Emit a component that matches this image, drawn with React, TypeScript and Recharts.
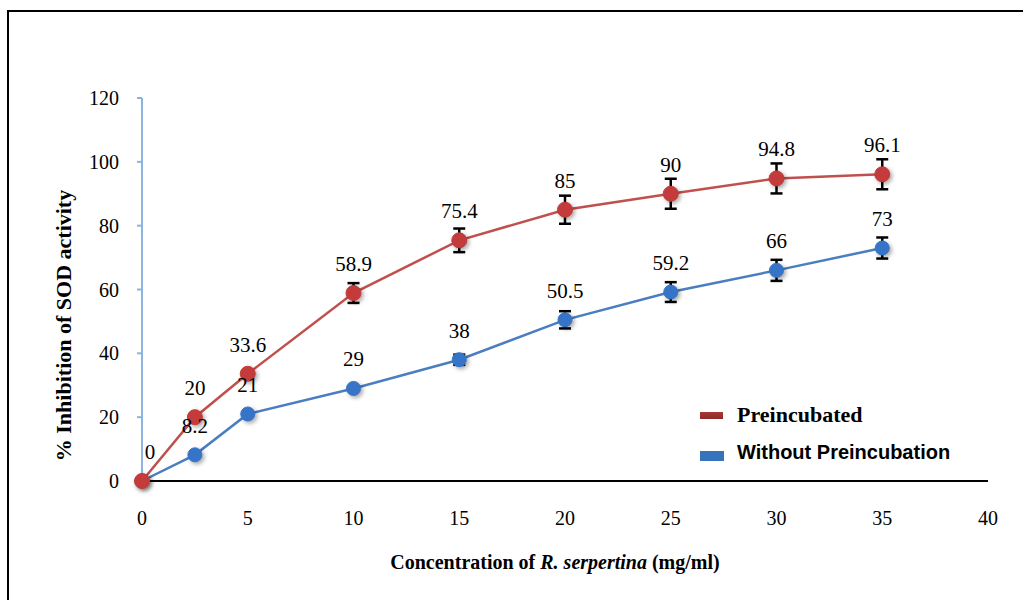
import { LineChart, Line, XAxis, YAxis, ErrorBar, LabelList, Label } from 'recharts'

const concentration = [0, 2.5, 5, 10, 15, 20, 25, 30, 35]
const preincubated = [0, 20, 33.6, 58.9, 75.4, 85, 90, 94.8, 96.1]
const preincubatedErr = [0, 0, 0, 3.1, 3.7, 4.4, 4.7, 4.7, 4.7]
const withoutPre = [0, 8.2, 21, 29, 38, 50.5, 59.2, 66, 73]
const withoutPreErr = [0, 0, 0, 0, 1.6, 2.7, 3.1, 3.3, 3.3]
const xTicks = [0, 5, 10, 15, 20, 25, 30, 35, 40]
const yTicks = [0, 20, 40, 60, 80, 100, 120]

const RED_LINE = '#C0504D'
const RED_DOT = '#C33B3B'
const BLUE_LINE = '#4A7EC0'
const BLUE_DOT = '#3574C6'
const SERIF = '"Liberation Serif", "Times New Roman", serif'
const SANS = '"Liberation Sans", Arial, sans-serif'
const SHADOW = 'drop-shadow(2px 2px 2px rgba(0,0,0,0.35))'

const data = concentration.map((c, i) => ({
  c,
  pre: preincubated[i],
  preErr: preincubatedErr[i],
  wo: withoutPre[i],
  woErr: withoutPreErr[i],
}))

const labelStyle = { fill: '#000', fontSize: 21, fontFamily: SERIF }

function makeLabel(skipFirst: boolean) {
  return (props: any) => {
    const { x, y, value, index } = props
    if (skipFirst && index === 0) return null
    const dx = index === 0 ? 8 : 0
    return (
      <text x={x + dx} y={y - 22} textAnchor="middle" style={labelStyle}>
        {value}
      </text>
    )
  }
}

const XTitle = (props: any) => {
  const { viewBox } = props
  const cx = viewBox.x + viewBox.width / 2 - 10
  return (
    <text x={cx} y={569} textAnchor="middle" style={{ fontFamily: SERIF, fontSize: 20, fontWeight: 'bold', fill: '#000' }}>
      Concentration of <tspan fontStyle="italic">R. serpertina</tspan> (mg/ml)
    </text>
  )
}

export default function App() {
  return (
    <div style={{ position: 'absolute', left: 0, top: 0, width: 1023, height: 600, overflow: 'hidden', background: '#fff' }}>
      <div style={{ position: 'absolute', left: 7, top: 10, width: 1040, height: 620, border: '2px solid #000', boxSizing: 'border-box' }} />
      <LineChart width={1023} height={600} data={data} margin={{ top: 98, right: 35, bottom: 59, left: 82 }}>
        <XAxis
          dataKey="c"
          type="number"
          domain={[0, 40]}
          ticks={xTicks}
          tickLine={false}
          tickMargin={24}
          axisLine={{ stroke: '#000', strokeWidth: 2 }}
          tick={{ fill: '#000', fontSize: 20, fontFamily: SERIF }}
          height={60}
        >
          <Label content={<XTitle />} />
        </XAxis>
        <YAxis
          type="number"
          domain={[0, 120]}
          ticks={yTicks}
          width={60}
          tickSize={5}
          tickMargin={18}
          tickLine={{ stroke: '#8DB3E2', strokeWidth: 2 }}
          axisLine={{ stroke: '#8DB3E2', strokeWidth: 2 }}
          tick={{ fill: '#000', fontSize: 20, fontFamily: SERIF }}
        >
          <Label
            value="% Inhibition of SOD activity"
            angle={-90}
            position="insideLeft"
            offset={0}
            dx={-19}
            dy={36}
            style={{ fontFamily: SERIF, fontSize: 22, fontWeight: 'bold', fill: '#000', textAnchor: 'middle' }}
          />
        </YAxis>
        <Line
          dataKey="wo"
          stroke={BLUE_LINE}
          strokeWidth={2.5}
          dot={{ r: 7, fill: BLUE_DOT, stroke: BLUE_DOT, strokeWidth: 1, style: { filter: SHADOW } }}
          isAnimationActive={false}
        >
          <ErrorBar dataKey="woErr" direction="y" width={6} stroke="#000" strokeWidth={2.5} />
          <LabelList dataKey="wo" content={makeLabel(true)} />
        </Line>
        <Line
          dataKey="pre"
          stroke={RED_LINE}
          strokeWidth={2.5}
          dot={{ r: 7.5, fill: RED_DOT, stroke: RED_DOT, strokeWidth: 1, style: { filter: SHADOW } }}
          isAnimationActive={false}
        >
          <ErrorBar dataKey="preErr" direction="y" width={6} stroke="#000" strokeWidth={2.5} />
          <LabelList dataKey="pre" content={makeLabel(false)} />
        </Line>
      </LineChart>
      <div style={{ position: 'absolute', left: 700, top: 412, width: 23, height: 7, background: 'linear-gradient(#A33A37, #8E2A28)' }} />
      <div style={{ position: 'absolute', left: 737, top: 401, fontFamily: SERIF, fontWeight: 'bold', fontSize: 22, lineHeight: '28px', color: '#000' }}>
        Preincubated
      </div>
      <div style={{ position: 'absolute', left: 700, top: 451, width: 24, height: 10, background: '#3574BC' }} />
      <div style={{ position: 'absolute', left: 737, top: 440, fontFamily: SANS, fontWeight: 'bold', fontSize: 20, lineHeight: '24px', color: '#000' }}>
        Without Preincubation
      </div>
    </div>
  )
}
